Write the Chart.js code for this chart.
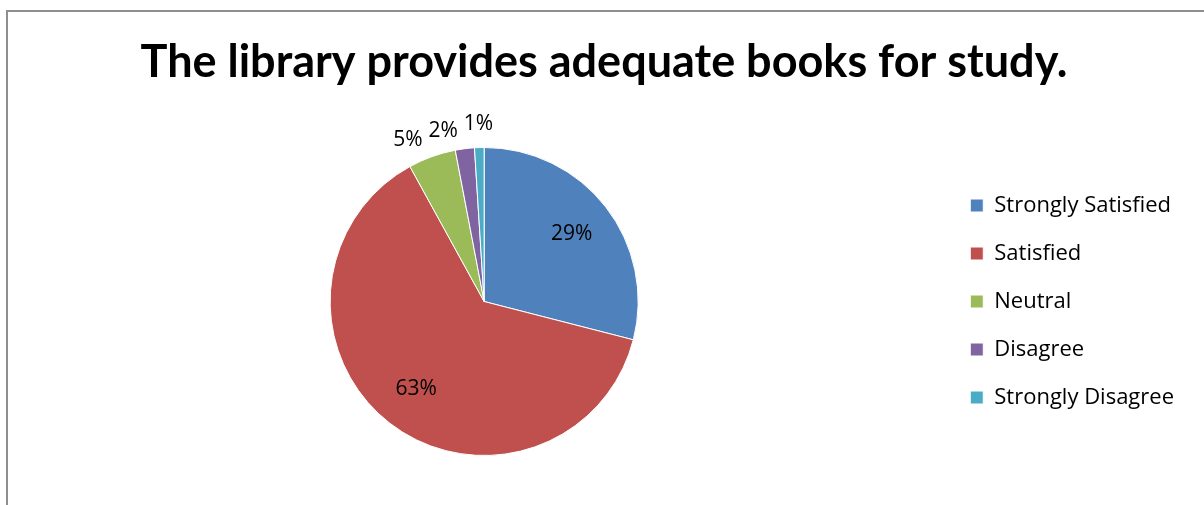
<!DOCTYPE html>
<html>
<head>
<meta charset="utf-8">
<script src="https://cdn.jsdelivr.net/npm/chart.js@4/dist/chart.umd.min.js"></script>
<style>
  html, body { margin: 0; padding: 0; background: #fff; overflow: hidden; }
  #frame { position: absolute; left: 6px; top: 10px; width: 1400px; height: 700px; border: 2px solid #8e8e8e; box-sizing: border-box; }
  #wrap { position: absolute; left: 0; top: 0; width: 1204px; height: 505px; }
</style>
</head>
<body>
<div id="frame"></div>
<div id="wrap"><canvas id="pizza"></canvas></div>
<script>
const titulo = "The library provides adequate books for study.";
const categorias = ["Strongly Satisfied", "Satisfied", "Neutral", "Disagree", "Strongly Disagree"];
const valores = [29, 63, 5, 2, 1];
const cores = ["#4F81BD", "#C0504D", "#9BBB59", "#8064A2", "#4BACC6"];

const fonteTitulo = "Lato, 'Open Sans', sans-serif";
const fonte = "'Open Sans', Lato, sans-serif";

// rótulos de porcentagem: dentro das fatias grandes, fora das pequenas
const rotulos = {
  id: "rotulos",
  afterDatasetsDraw(chart) {
    const ctx = chart.ctx;
    const arcos = chart.getDatasetMeta(0).data;
    const total = valores.reduce((a, b) => a + b, 0);
    ctx.save();
    ctx.font = "21px " + fonte;
    ctx.fillStyle = "#000";
    ctx.textBaseline = "middle";
    ctx.textAlign = "center";
    let fora = [];
    arcos.forEach((arco, i) => {
      const p = arco.getProps(["x", "y", "startAngle", "endAngle", "outerRadius"], true);
      const meio = (p.startAngle + p.endAngle) / 2;
      const texto = Math.round(valores[i] / total * 100) + "%";
      if (valores[i] / total > 0.1) {
        const r = p.outerRadius * 0.72;
        ctx.fillText(texto, p.x + Math.cos(meio) * r, p.y + Math.sin(meio) * r);
      } else {
        const r = p.outerRadius + 24;
        fora.push({ texto, x: p.x + Math.cos(meio) * r, y: p.y + Math.sin(meio) * r });
      }
    });
    // empurra para a esquerda os que se sobrepõem
    for (let i = fora.length - 2; i >= 0; i--) {
      const w = ctx.measureText(fora[i].texto).width;
      const wProx = ctx.measureText(fora[i + 1].texto).width;
      const limite = fora[i + 1].x - wProx / 2 - 6 - w / 2;
      if (fora[i].x > limite) {
        fora[i].x = limite;
        fora[i].y += 6;
      }
    }
    fora.forEach(f => ctx.fillText(f.texto, f.x, f.y));
    ctx.restore();
  }
};

const ctx = document.getElementById("pizza");
const grafico = new Chart(ctx, {
  type: "pie",
  data: {
    labels: categorias,
    datasets: [{
      data: valores,
      backgroundColor: cores,
      borderColor: "#fff",
      borderWidth: 1,
    }],
  },
  options: {
    responsive: true,
    maintainAspectRatio: false,
    animation: false,
    layout: { padding: { left: 24, right: 20, top: 0, bottom: 49 } },
    plugins: {
      title: {
        display: true,
        text: titulo,
        color: "#000",
        font: { family: fonteTitulo, size: 45, weight: "bold" },
        padding: { top: 35, bottom: 58 },
      },
      legend: {
        position: "right",
        fullSize: false,
        labels: {
          color: "#000",
          font: { family: fonte, size: 22 },
          boxWidth: 13,
          boxHeight: 13,
          padding: 26,
        },
      },
      tooltip: { enabled: false },
    },
  },
  plugins: [rotulos],
});
</script>
</body>
</html>
